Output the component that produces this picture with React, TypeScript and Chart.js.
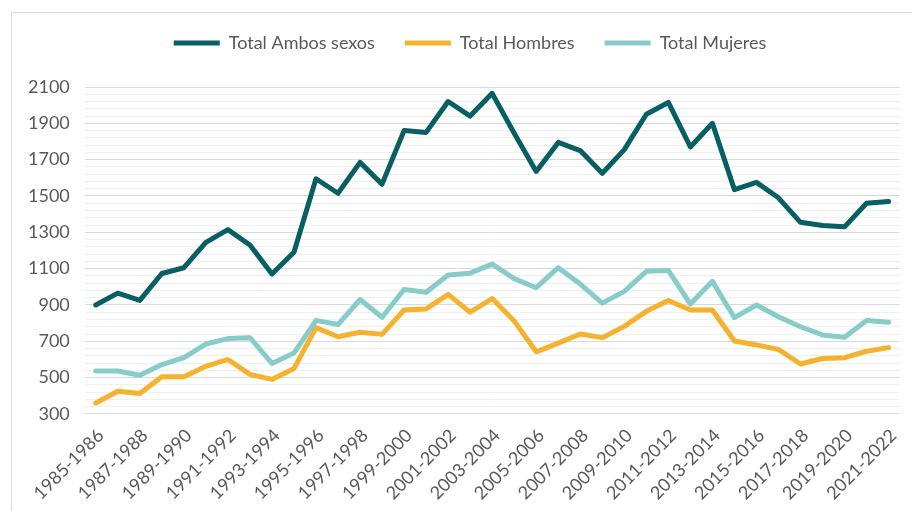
import React, { useEffect, useRef } from "react";
import { Chart, registerables } from "chart.js";

Chart.register(...registerables);

const categories = [
  "1985-1986", "1986-1987", "1987-1988", "1988-1989", "1989-1990", "1990-1991",
  "1991-1992", "1992-1993", "1993-1994", "1994-1995", "1995-1996", "1996-1997",
  "1997-1998", "1998-1999", "1999-2000", "2000-2001", "2001-2002", "2002-2003",
  "2003-2004", "2004-2005", "2005-2006", "2006-2007", "2007-2008", "2008-2009",
  "2009-2010", "2010-2011", "2011-2012", "2012-2013", "2013-2014", "2014-2015",
  "2015-2016", "2016-2017", "2017-2018", "2018-2019", "2019-2020", "2020-2021",
  "2021-2022",
];

const totalAmbos = [
  900, 965, 925, 1073, 1105, 1245, 1315, 1230, 1070, 1190, 1595, 1515, 1685,
  1565, 1860, 1850, 2020, 1940, 2065, 1845, 1635, 1795, 1750, 1625, 1755, 1950,
  2015, 1770, 1900, 1535, 1575, 1490, 1355, 1338, 1330, 1460, 1470,
];

const totalHombres = [
  360, 425, 412, 505, 505, 562, 600, 518, 490, 550, 775, 725, 750, 738, 872,
  878, 958, 860, 935, 812, 642, 690, 740, 720, 782, 865, 925, 872, 872, 702,
  680, 655, 575, 605, 610, 645, 665,
];

const totalMujeres = [
  537, 536, 513, 572, 610, 685, 715, 720, 578, 635, 815, 792, 930, 832, 985,
  970, 1065, 1075, 1125, 1045, 995, 1105, 1015, 910, 975, 1085, 1090, 905,
  1030, 830, 900, 835, 780, 735, 722, 815, 805,
];

const yMajorTicks = [300, 500, 700, 900, 1100, 1300, 1500, 1700, 1900, 2100];
const yMinorStep = 40;

const seriesNames = ["Total Ambos sexos", "Total Hombres", "Total Mujeres"];
const seriesColors = ["#075E63", "#F5B130", "#88CCC9"];

const FONT = "Lato, 'Open Sans', sans-serif";
const TEXT = "#595959";

export default function App() {
  const canvasRef = useRef<HTMLCanvasElement | null>(null);

  useEffect(() => {
    const canvas = canvasRef.current;
    if (!canvas) return;

    const allTicks: number[] = [];
    for (let i = 0; i < yMajorTicks.length; i++) {
      allTicks.push(yMajorTicks[i]);
      if (i < yMajorTicks.length - 1) {
        for (let v = yMajorTicks[i] + yMinorStep; v < yMajorTicks[i + 1]; v += yMinorStep) {
          allTicks.push(v);
        }
      }
    }

    const legendSpacing = {
      id: "legendSpacing",
      beforeInit(chart: any) {
        const legend = chart.legend;
        if (!legend) return;
        const origFit = legend.fit;
        legend.fit = function () {
          origFit.call(this);
          this.height += 25;
        };
        const origDraw = legend.draw;
        legend.draw = function (...args: any[]) {
          const ctx = this.ctx;
          ctx.save();
          ctx.translate(12, 0);
          origDraw.apply(this, args);
          ctx.restore();
        };
      },
    };

    const datasets = [totalAmbos, totalHombres, totalMujeres].map((d, i) => ({
      label: seriesNames[i],
      data: d,
      borderColor: seriesColors[i],
      backgroundColor: seriesColors[i],
      borderWidth: 5,
      borderCapStyle: "round" as const,
      borderJoinStyle: "round" as const,
      pointRadius: 0,
      pointHoverRadius: 0,
      tension: 0,
      fill: false,
      order: 3 - i,
    }));

    const chart = new Chart(canvas, {
      type: "line",
      data: { labels: categories, datasets },
      plugins: [legendSpacing],
      options: {
        animation: false,
        responsive: false,
        maintainAspectRatio: false,
        layout: { padding: { left: 14, right: 12, top: 0, bottom: 0 } },
        plugins: {
          tooltip: { enabled: false },
          legend: {
            position: "top",
            labels: {
              usePointStyle: true,
              pointStyle: "line",
              pointStyleWidth: 46,
              boxHeight: 18,
              padding: 30,
              color: TEXT,
              font: { family: FONT, size: 18 },
              sort: (a: any, b: any) => a.datasetIndex - b.datasetIndex,
            },
          },
        },
        scales: {
          x: {
            offset: true,
            grid: { display: false, drawTicks: false },
            border: { display: false },
            ticks: {
              autoSkip: false,
              minRotation: 45,
              maxRotation: 45,
              padding: 11,
              labelOffset: 5,
              color: TEXT,
              font: { family: FONT, size: 18 },
              callback: function (_v: any, index: number) {
                return index % 2 === 0 ? categories[index] : "";
              },
            },
          },
          y: {
            min: 300,
            max: 2100,
            afterBuildTicks: (scale: any) => {
              scale.ticks = allTicks.map((v) => ({ value: v }));
            },
            grid: {
              drawTicks: false,
              lineWidth: 1,
              color: (ctx: any) =>
                ctx.tick && yMajorTicks.includes(ctx.tick.value) ? "#D9D9D9" : "#F0F0F0",
            },
            border: { display: false },
            ticks: {
              autoSkip: false,
              padding: 15,
              color: TEXT,
              font: { family: FONT, size: 18 },
              callback: (v: any) => (yMajorTicks.includes(Number(v)) ? String(v) : ""),
            },
          },
        },
      },
    });

    return () => chart.destroy();
  }, []);

  return (
    <div
      style={{
        position: "fixed",
        left: 0,
        top: 0,
        width: 912,
        height: 511,
        overflow: "hidden",
        background: "#ffffff",
      }}
    >
      <div
        style={{
          position: "absolute",
          left: 11,
          top: 12,
          width: 960,
          height: 560,
          border: "1px solid #D9D9D9",
          boxSizing: "border-box",
        }}
      />
      <canvas
        ref={canvasRef}
        width={916}
        height={511}
        style={{ position: "absolute", left: -1, top: 4, width: 916, height: 511 }}
      />
    </div>
  );
}
